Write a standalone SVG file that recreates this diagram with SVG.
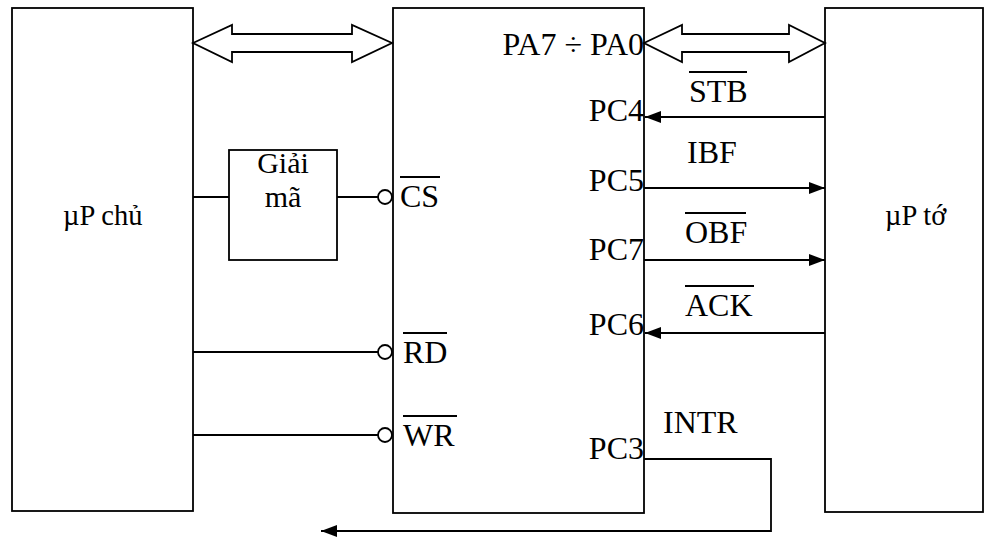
<svg xmlns="http://www.w3.org/2000/svg" width="995" height="538" viewBox="0 0 995 538">
<style>
.box{fill:#fff;stroke:#000;stroke-width:1.8}
.ln{fill:none;stroke:#000;stroke-width:1.8}
.bus{fill:#fff;stroke:#000;stroke-width:1.8;stroke-linejoin:miter}
.bub{fill:#fff;stroke:#000;stroke-width:1.8}
text{font-family:"Liberation Serif","Times New Roman",serif;font-size:32px;fill:#000}
.big{font-size:28.5px}
.dec{font-size:30px}
.e{text-anchor:end}
.m{text-anchor:middle}
</style>
<defs>
<marker id="ah" viewBox="0 0 16 12" refX="16" refY="6" markerWidth="16" markerHeight="12" markerUnits="userSpaceOnUse" orient="auto">
<path d="M0,0 L16,6 L0,12 Z" fill="#000"/>
</marker>
</defs>
<g id="master">
<rect class="box" x="12" y="8" width="181" height="503"/>
<text class="big" x="63" y="225">µP chủ</text>
</g>
<g id="decoder">
<rect class="box" x="229" y="150" width="108" height="110"/>
<text class="m dec" x="283" y="173">Giải</text>
<text class="m dec" x="283" y="207">mã</text>
</g>
<g id="ppi">
<rect class="box" x="393" y="8" width="251" height="505"/>
<text class="e" x="644" y="55">PA7 ÷ PA0</text>
<text class="e" x="644" y="121">PC4</text>
<text class="e" x="644" y="191">PC5</text>
<text class="e" x="644" y="260">PC7</text>
<text class="e" x="644" y="335">PC6</text>
<text class="e" x="644" y="459">PC3</text>
<text x="400" y="207">CS</text>
<line class="ln" x1="400" y1="177" x2="440" y2="177"/>
<text x="403" y="363">RD</text>
<line class="ln" x1="403" y1="333" x2="447" y2="333"/>
<text x="403" y="446">WR</text>
<line class="ln" x1="403" y1="416" x2="457" y2="416"/>
</g>
<g id="slave">
<rect class="box" x="825" y="8" width="158" height="504"/>
<text class="big" x="885" y="225">µP tớ</text>
</g>
<g id="connectors">
<polygon class="bus" points="193,43 232,25 232,34 352,34 352,25 392,43 352,62 352,52 232,52 232,62"/>
<polygon class="bus" points="644,43 682,25 682,34 789,34 789,25 825,43 789,62 789,52 682,52 682,62"/>
<line class="ln" x1="193" y1="197" x2="229" y2="197"/>
<line class="ln" x1="337" y1="197" x2="378" y2="197"/>
<circle class="bub" cx="385" cy="197" r="7"/>
<line class="ln" x1="193" y1="352" x2="378" y2="352"/>
<circle class="bub" cx="385" cy="352" r="7"/>
<line class="ln" x1="193" y1="435" x2="378" y2="435"/>
<circle class="bub" cx="385" cy="435" r="7"/>
<line class="ln" x1="825" y1="117" x2="645" y2="117" marker-end="url(#ah)"/>
<line class="ln" x1="644" y1="188" x2="825" y2="188" marker-end="url(#ah)"/>
<line class="ln" x1="644" y1="260" x2="825" y2="260" marker-end="url(#ah)"/>
<line class="ln" x1="825" y1="333" x2="645" y2="333" marker-end="url(#ah)"/>
<polyline class="ln" points="644,459 771,459 771,531 321,531" marker-end="url(#ah)"/>
<text x="689" y="102">STB</text>
<line class="ln" x1="689" y1="72" x2="747" y2="72"/>
<text x="687" y="163">IBF</text>
<text x="685" y="243">OBF</text>
<line class="ln" x1="685" y1="213" x2="746" y2="213"/>
<text x="685" y="316">ACK</text>
<line class="ln" x1="685" y1="286" x2="754" y2="286"/>
<text x="663" y="433">INTR</text>
</g>
</svg>
